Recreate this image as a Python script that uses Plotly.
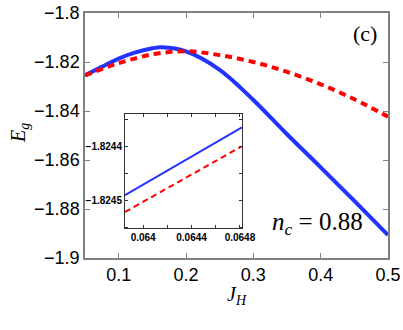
import plotly.graph_objects as go

# Main panel data
jh = [0.05, 0.075, 0.1, 0.125, 0.15, 0.165, 0.2, 0.25, 0.3, 0.35, 0.4, 0.45, 0.5]
eg_blue = [-1.8254, -1.8220, -1.8186, -1.8161, -1.8144, -1.8140, -1.8157, -1.8232, -1.8355, -1.8495, -1.8630, -1.8767, -1.8906]
jh_red = [0.05, 0.1, 0.15, 0.2, 0.25, 0.3, 0.35, 0.4, 0.45, 0.5]
eg_red = [-1.8255, -1.8205, -1.8169, -1.8156, -1.8172, -1.8200, -1.8240, -1.8291, -1.8352, -1.8423]

# Inset data
ins_x = [0.06385, 0.0648165]
ins_blue = [-1.824491, -1.824365]
ins_red = [-1.824522, -1.824400]

main_yticks = [-1.8, -1.82, -1.84, -1.86, -1.88, -1.9]
main_yticktext = ["−1.8", "−1.82", "−1.84", "−1.86", "−1.88", "−1.9"]
main_xticks = [0.1, 0.2, 0.3, 0.4, 0.5]
main_xticktext = ["0.1", "0.2", "0.3", "0.4", "0.5"]
ins_xticks = [0.064, 0.0642, 0.0644, 0.0646, 0.0648]
ins_xticktext = ["0.064", "", "0.0644", "", "0.0648"]
ins_yticks = [-1.82435, -1.8244, -1.82445, -1.8245, -1.82455]
ins_yticktext = ["", "−1.8244", "", "−1.8245", ""]

fig = go.Figure()
fig.add_trace(go.Scatter(x=jh, y=eg_blue, mode="lines", line=dict(color="#2233ff", width=4, shape="spline"),
                         xaxis="x", yaxis="y", showlegend=False))
fig.add_trace(go.Scatter(x=jh_red, y=eg_red, mode="lines", line=dict(color="#ff0000", width=4, dash="7px,5px", shape="spline"),
                         xaxis="x", yaxis="y", showlegend=False))
fig.add_trace(go.Scatter(x=ins_x, y=ins_blue, mode="lines", line=dict(color="#2233ff", width=2),
                         xaxis="x2", yaxis="y2", showlegend=False))
fig.add_trace(go.Scatter(x=ins_x, y=ins_red, mode="lines", line=dict(color="#ff0000", width=2, dash="6px,4px"),
                         xaxis="x2", yaxis="y2", showlegend=False))

axcol = "#808080"
fig.update_layout(
    width=403, height=330,
    margin=dict(l=85, r=15, t=13, b=72, autoexpand=False),
    paper_bgcolor="white", plot_bgcolor="white",
    font=dict(family="Liberation Sans, Arial, sans-serif", color="black"),
    xaxis=dict(domain=[0, 1], range=[0.05, 0.5], tickvals=main_xticks, ticktext=main_xticktext,
               ticks="inside", ticklen=5, tickcolor=axcol, showline=True, linecolor=axcol, linewidth=1.5,
               mirror="ticks", showgrid=False, zeroline=False, tickfont=dict(size=18), automargin=False),
    yaxis=dict(domain=[0, 1], range=[-1.9, -1.8], tickvals=main_yticks, ticktext=main_yticktext,
               ticks="inside", ticklen=5, tickcolor=axcol, showline=True, linecolor=axcol, linewidth=1.5,
               mirror="ticks", showgrid=False, zeroline=False, tickfont=dict(size=18), automargin=False),
    xaxis2=dict(domain=[0.132, 0.518], anchor="y2", range=[0.06385, 0.0648165], tickvals=ins_xticks,
                ticktext=ins_xticktext, ticks="inside", ticklen=3, tickcolor="#333", showline=True,
                linecolor="#333", linewidth=1, mirror="ticks", showgrid=False, zeroline=False,
                tickfont=dict(size=10, weight="bold"), automargin=False),
    yaxis2=dict(domain=[0.122, 0.588], anchor="x2", range=[-1.824552, -1.82434], tickvals=ins_yticks,
                ticktext=ins_yticktext, ticks="inside", ticklen=3, tickcolor="#333", showline=True,
                linecolor="#333", linewidth=1, mirror="ticks", showgrid=False, zeroline=False,
                tickfont=dict(size=10, weight="bold"), automargin=False),
)

serif = "Liberation Serif"
W, H = 403 - 85 - 15, 330 - 13 - 72
def px(x): return (x - 85) / W
def py(y): return (258 - y) / H

common = dict(xref="paper", yref="paper", showarrow=False, xanchor="center", yanchor="middle")
fig.add_annotation(x=px(237), y=py(295), text="<i>J<sub>H</sub></i>", font=dict(family=serif, size=20), **common)
fig.add_annotation(x=px(19), y=py(133), text="<i>E<sub>g</sub></i>", textangle=-90,
                   font=dict(family=serif, size=20), **common)
fig.add_annotation(x=px(365), y=py(33), text="(c)", font=dict(family=serif, size=22), **common)
fig.add_annotation(x=px(317), y=py(223), text="<i>n</i><sub><i>c</i></sub> = 0.88",
                   font=dict(family=serif, size=25), **common)

fig.write_html("out.html", config={"displayModeBar": False},
               post_script="document.body.style.margin='0';document.body.style.overflow='hidden';")
